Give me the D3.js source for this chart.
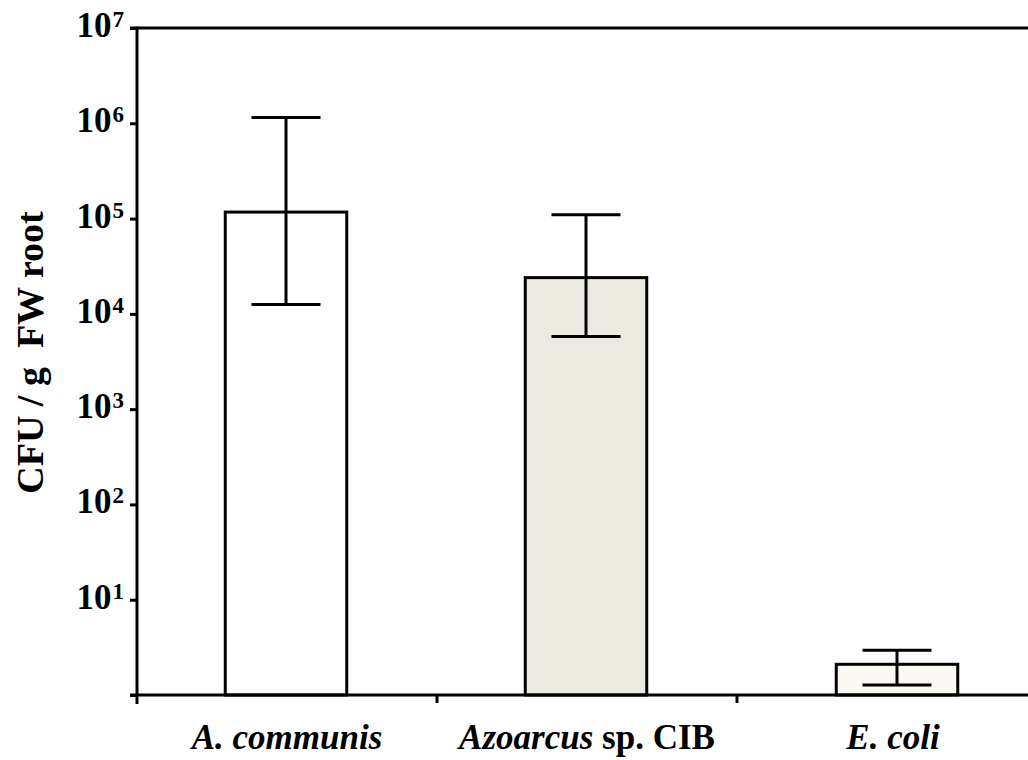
<!DOCTYPE html>
<html>
<head>
<meta charset="utf-8">
<script src="https://cdn.jsdelivr.net/npm/d3@7"></script>
<style>
  body { margin: 0; background: #fff; }
  text { font-family: "Liberation Serif", "Times New Roman", serif; font-weight: bold; }
</style>
</head>
<body>
<div id="chart"></div>
<script>
// data
const strains = ['A. communis', 'Azoarcus sp. CIB', 'E. coli'];
const cfuMean = [1.17e5, 2.4e4, 2.1];
const cfuUpper = [1.15e6, 1.1e5, 2.95];
const cfuLower = [1.25e4, 5.8e3, 1.27];
const barFills = ['#ffffff', '#ece9e0', '#fcf9f5'];
const yExponents = [0, 1, 2, 3, 4, 5, 6, 7];

const W = 1028, H = 760;
const margin = { top: 28, right: -9, bottom: 65, left: 137 };
const width = W - margin.left - margin.right;
const height = H - margin.top - margin.bottom;

const svg = d3.select('#chart').append('svg')
    .attr('width', W).attr('height', H)
  .append('g')
    .attr('transform', `translate(${margin.left},${margin.top})`);

const x = d3.scaleBand().domain(strains).range([0, width]).padding(0);
const y = d3.scaleLog().domain([1, 1e7]).range([height, 0]);
const barW = x.bandwidth() * 0.405;
const capW = x.bandwidth() * 0.23;

const data = strains.map((s, i) => ({
    name: s, mean: cfuMean[i], hi: cfuUpper[i], lo: cfuLower[i], fill: barFills[i]
}));
// E. coli bar sits a bit right of its band centre in the original
const shift = [-1, -1, 10];

// bars
svg.selectAll('.bar').data(data).enter().append('rect')
    .attr('class', 'bar')
    .attr('x', (d, i) => x(d.name) + x.bandwidth() / 2 - barW / 2 + shift[i])
    .attr('y', d => y(d.mean))
    .attr('width', barW)
    .attr('height', d => y(1) - y(d.mean))
    .attr('fill', d => d.fill)
    .attr('stroke', '#000')
    .attr('stroke-width', 3);

// error bars
const eb = svg.selectAll('.err').data(data).enter().append('g')
    .attr('class', 'err')
    .attr('transform', (d, i) => `translate(${x(d.name) + x.bandwidth() / 2 + shift[i]},0)`)
    .attr('stroke', '#000').attr('stroke-width', 3);
eb.append('line').attr('y1', d => y(d.lo)).attr('y2', d => y(d.hi));
eb.append('line').attr('x1', -capW / 2).attr('x2', capW / 2)
    .attr('y1', d => y(d.hi)).attr('y2', d => y(d.hi));
eb.append('line').attr('x1', -capW / 2).attr('x2', capW / 2)
    .attr('y1', d => y(d.lo)).attr('y2', d => y(d.lo));

// y axis
const yAxis = svg.append('g')
    .call(d3.axisLeft(y).tickValues(yExponents.map(e => Math.pow(10, e))).tickSize(7).tickFormat(''));
yAxis.select('.domain').remove();
yAxis.selectAll('.tick line').attr('stroke-width', 3);
yAxis.append('line').attr('x1', 0).attr('x2', 0).attr('y1', -1.5).attr('y2', height + 9)
    .attr('stroke', '#000').attr('stroke-width', 3);

// tick labels as 10^n
const lab = svg.append('g').selectAll('text')
    .data(yExponents.filter(e => e > 0)).enter().append('text')
    .attr('x', -13).attr('y', e => y(Math.pow(10, e)) + 9)
    .attr('text-anchor', 'end')
    .attr('font-size', 35)
    .attr('fill', '#000');
lab.append('tspan').text('10');
lab.append('tspan').attr('dy', -10).attr('dx', 1).attr('font-size', 23).text(e => e);

// x axis
const xAxis = svg.append('g').attr('transform', `translate(0,${height})`)
    .call(d3.axisBottom(x).tickValues([]).tickSizeOuter(0));
xAxis.select('.domain').attr('stroke-width', 3).attr('d', `M-7,0H${width}`);
svg.append('g').selectAll('line').data(strains.slice(1)).enter().append('line')
    .attr('x1', d => x(d)).attr('x2', d => x(d))
    .attr('y1', height).attr('y2', height + 8)
    .attr('stroke', '#000').attr('stroke-width', 3);

// top frame line
svg.append('line').attr('x1', -7).attr('x2', width).attr('y1', 0).attr('y2', 0)
    .attr('stroke', '#000').attr('stroke-width', 3);

// category labels
const labelShift = [0, 0, 6];
const xl = svg.append('g').selectAll('text').data(data).enter().append('text')
    .attr('x', (d, i) => x(d.name) + x.bandwidth() / 2 + labelShift[i])
    .attr('y', height + 54)
    .attr('text-anchor', 'middle')
    .attr('font-size', 35)
    .attr('fill', '#000');
xl.each(function (d) {
    const t = d3.select(this);
    if (d.name.startsWith('Azoarcus')) {
        t.append('tspan').attr('font-style', 'italic').text('Azoarcus');
        t.append('tspan').text(' sp. CIB');
    } else {
        t.append('tspan').attr('font-style', 'italic').text(d.name);
    }
});

// y title
svg.append('text')
    .attr('transform', `translate(${-94},${height / 2 - 9}) rotate(-90)`)
    .attr('text-anchor', 'middle')
    .attr('font-size', 38)
    .attr('fill', '#000')
    .attr('xml:space', 'preserve')
    .style('white-space', 'pre')
    .text('CFU / g  FW root');
</script>
</body>
</html>
